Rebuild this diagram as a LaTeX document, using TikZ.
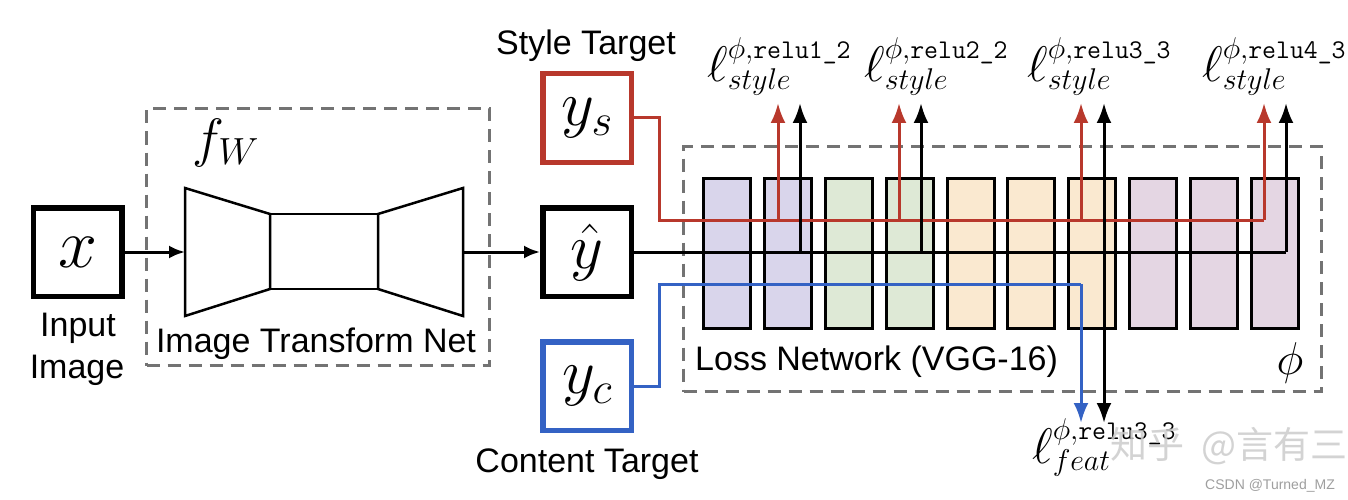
\RequirePackage{fix-cm}
\documentclass[tikz,border=0pt]{standalone}
\usepackage{amsmath}
\usepackage[no-math]{fontspec}
\setsansfont{Liberation Sans}
\newfontfamily\cjkfont{Noto Sans CJK SC}
\usetikzlibrary{arrows.meta}
\DeclareMathSizes{50}{50}{30}{22}
\newcommand{\rlab}[1]{\text{\fontsize{27}{30}\selectfont\ttfamily #1}}
\definecolor{myred}{RGB}{184,56,44}
\definecolor{myblue}{RGB}{52,98,196}
\definecolor{dgray}{RGB}{115,115,115}
\definecolor{lav}{RGB}{217,213,235}
\definecolor{grn}{RGB}{222,233,214}
\definecolor{pch}{RGB}{250,233,208}
\definecolor{mve}{RGB}{228,214,227}
\begin{document}
\begin{tikzpicture}[x=1pt,y=-1pt,
  dashbox/.style={draw=dgray, line width=3pt, dash pattern=on 13pt off 8pt, inner sep=0pt},
  imgbox/.style={draw, line width=5.5pt, inner sep=0pt, minimum width=88.5pt, minimum height=88.5pt},
  layer/.style={draw, line width=2.7pt, minimum width=47.5pt, minimum height=150.5pt, inner sep=0pt},
  encline/.style={line width=2.5pt, line join=miter},
  conn/.style={line width=3pt},
  tipv/.style={-{Latex[length=20pt,width=15pt]}},
  tiph/.style={-{Latex[length=16pt,width=13pt]}},
  sanslab/.style={font=\sffamily\fontsize{34}{40}\selectfont, inner sep=0pt},
  losslab/.style={font=\fontsize{50}{56}\selectfont, inner sep=0pt},
  bigmath/.style={font=\fontsize{70}{80}\selectfont, inner sep=0pt},
  midmath/.style={font=\fontsize{64}{72}\selectfont, inner sep=0pt}
]
\useasboundingbox (0,0) rectangle (1348,500);
\fill[white] (0,0) rectangle (1348,500);

% dashed frames
\node[dashbox, minimum width=343pt, minimum height=257pt] (fwbox) at (318,237) {};
\node[dashbox, minimum width=638pt, minimum height=245pt] (lossbox) at (1002.5,269) {};

% input image
\node[imgbox] (xin) at (77.5,252) {};
\node[bigmath] (xlab) at (xin.center) {$x$};
\node[sanslab, anchor=base] (inp1) at (78,336) {Input};
\node[sanslab, anchor=base] (inp2) at (77,378) {Image};

% image transform net
\node[inner sep=0pt, font=\fontsize{54}{60}\selectfont, anchor=base west] (fw) at (192,156) {$f_W$};
\draw[encline] (185,188) -- (270,214) -- (270,289) -- (185,316) -- cycle;
\node[draw, line width=2.5pt, minimum width=108pt, minimum height=75pt, inner sep=0pt] (mid) at (324,251.5) {};
\draw[encline] (378,214) -- (463,188) -- (463,316) -- (378,289) -- cycle;
\coordinate (encin) at (185,252);
\coordinate (encout) at (463,252);
\node[sanslab, anchor=base] (itn) at (316,352) {Image Transform Net};

% targets and output
\node[imgbox] (yhat) at (587,252) {};
\node[midmath] (yhatlab) at (yhat.center) {$\hat{y}$};
\node[imgbox, draw=myred] (ys) at (587,118) {};
\node[midmath] (yslab) at (ys.center) {$y_s$};
\node[imgbox, draw=myblue] (yc) at (587,386) {};
\node[midmath] (yclab) at (yc.center) {$y_c$};
\node[sanslab, anchor=base] (stl) at (586,55) {Style Target};
\node[sanslab, anchor=base] (ctl) at (587,472) {Content Target};

% loss network layers
\foreach \i/\cx/\col in {1/727/lav,2/788/lav,3/849/grn,4/910/grn,5/971/pch,6/1031/pch,7/1092/pch,8/1153/mve,9/1214/mve,10/1275/mve}
  \node[layer, fill=\col] (b\i) at (\cx,253.5) {};
\node[sanslab, anchor=base west] (lnl) at (695,370) {Loss Network (VGG-16)};
\node[inner sep=0pt, font=\fontsize{46}{50}\selectfont, anchor=base] (phi) at (1290,374) {$\phi$};

% coordinates
\coordinate (rturn) at (659,220);
\coordinate (bturn) at (659,284);
\foreach \n/\xr/\xb in {1/778/800,2/899/921,3/1081/1104,4/1264/1286}{
  \coordinate (rb\n) at (\xr,220);
  \coordinate (rt\n) at (\xr,103);
  \coordinate (kb\n) at (\xb,252);
  \coordinate (kt\n) at (\xb,103);
}
\coordinate (bdown) at (1081,284);
\coordinate (bend) at (1081,423);
\coordinate (kend) at (1104,423);

% connectors
\draw[conn,tiph] (xin.east) -- (encin);
\draw[conn,tiph] (encout) -- (yhat.west);
\draw[conn,myred] (ys.east) -| (rturn) -- (rb4);
\draw[conn,myred,tipv] (rb4) -- (rt4);
\draw[conn,myred,tipv] (rb1) -- (rt1);
\draw[conn,myred,tipv] (rb2) -- (rt2);
\draw[conn,myred,tipv] (rb3) -- (rt3);
\draw[conn] (yhat.east) -- (kb4);
\draw[conn,tipv] (kb4) -- (kt4);
\draw[conn,tipv] (kb1) -- (kt1);
\draw[conn,tipv] (kb2) -- (kt2);
\draw[conn,tipv] (kb3) -- (kt3);
\draw[conn,tipv] (kb3) -- (kend);
\draw[conn,myblue] (yc.east) -| (bturn) -- (bdown);
\draw[conn,myblue,tipv] (bdown) -- (bend);

% loss labels
\node[losslab, anchor=base west] (s1) at (707,82) {$\ell^{\phi,\rlab{relu1\_2}}_{style}$};
\node[losslab, anchor=base west] (s2) at (864,82) {$\ell^{\phi,\rlab{relu2\_2}}_{style}$};
\node[losslab, anchor=base west] (s3) at (1027,82) {$\ell^{\phi,\rlab{relu3\_3}}_{style}$};
\node[losslab, anchor=base west] (s4) at (1202,82) {$\ell^{\phi,\rlab{relu4\_3}}_{style}$};
\node[losslab, anchor=base west] (f3) at (1032,463) {$\ell^{\phi,\rlab{relu3\_3}}_{feat}$};

% watermarks
\node[font=\cjkfont\fontsize{37}{40}\selectfont, text=gray!40, anchor=base west, inner sep=0pt, opacity=0.85] (wm1) at (1110,458) {知乎};
\node[font=\cjkfont\fontsize{37}{40}\selectfont, text=gray!40, anchor=base east, inner sep=0pt, opacity=0.85] (wm2) at (1348,458) {@言有三};
\node[font=\sffamily\fontsize{14}{16}\selectfont, text=gray!75, anchor=base west, inner sep=0pt] (csdn) at (1205,489) {CSDN @Turned\_MZ};
\end{tikzpicture}
\end{document}
